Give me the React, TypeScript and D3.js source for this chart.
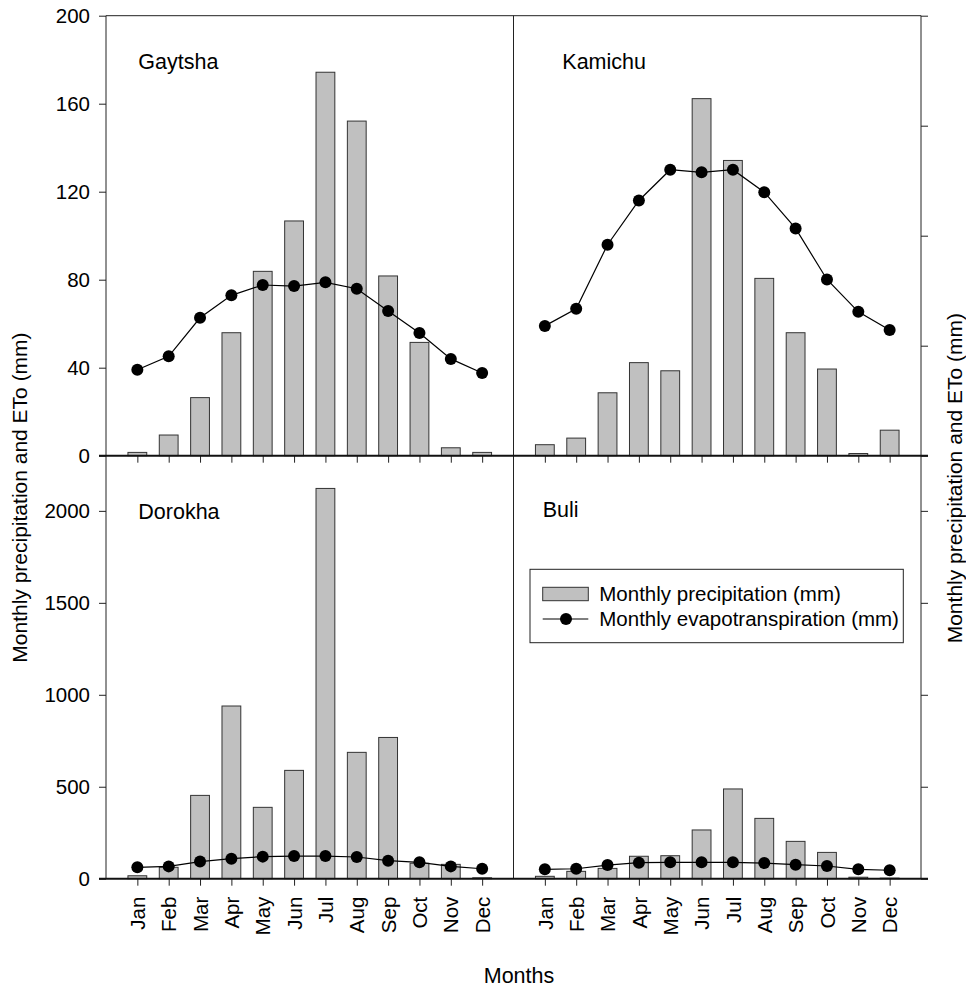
import { axisBottom, axisLeft, axisRight, line, scaleLinear, scalePoint, select } from "d3";
import { useEffect, useRef } from "react";

const months = ["Jan", "Feb", "Mar", "Apr", "May", "Jun", "Jul", "Aug", "Sep", "Oct", "Nov", "Dec"];

const gaytshaPrecip = [1.5, 9.4, 26.4, 55.9, 83.8, 106.7, 174.3, 152.1, 81.7, 51.5, 3.6, 1.5];
const gaytshaEto = [39.1, 45.2, 62.7, 72.9, 77.6, 77.1, 78.8, 75.9, 65.8, 55.8, 44.0, 37.6];
const kamichuPrecip = [5, 8, 28.6, 42.3, 38.6, 162.3, 134.2, 80.6, 55.9, 39.4, 1, 11.6];
const kamichuEto = [59, 66.8, 95.9, 116, 130, 128.8, 130, 119.8, 103.3, 80.1, 65.4, 57.1];
const dorokhaPrecip = [16, 62, 453, 939, 388, 589, 2122, 687, 768, 84, 78, 5];
const dorokhaEto = [62, 67, 93, 109, 120, 123, 123, 118, 98, 89, 67, 54];
const buliPrecip = [13, 40, 56, 122, 125, 265, 488, 328, 203, 143, 8, 3];
const buliEto = [51, 54, 74, 87, 89, 89, 89, 85, 76, 69, 51, 46];

const topDomain = [0, 200];
const bottomDomain = [0, 2300];
const topLeftTicks = [0, 40, 80, 120, 160, 200];
const topRightTicks = [0, 50, 100, 150, 200];
const bottomTicks = [0, 500, 1000, 1500, 2000];

const yTitle = "Monthly precipitation and ETo (mm)";
const xTitle = "Months";
const legendLabels = ["Monthly precipitation (mm)", "Monthly evapotranspiration (mm)"];

const FONT = "Arial, 'Liberation Sans', Helvetica, sans-serif";
const BAR_FILL = "#c0c0c0";
const BAR_STROKE = "#333";

const left = 106;
const mid = 513.5;
const right = 921;
const top = 15.7;
const midY = 455.7;
const bottom = 878.7;

export default function App() {
  const svgRef = useRef<SVGSVGElement | null>(null);

  useEffect(() => {
    if (!svgRef.current) return;
    const svg = select(svgRef.current);
    svg.selectAll("*").remove();

    const yTop = scaleLinear().domain(topDomain).range([midY, top]);
    const yBottom = scaleLinear().domain(bottomDomain).range([bottom, midY]);
    const xLeft = scalePoint<string>().domain(months).range([left, mid]).padding(1);
    const xRight = scalePoint<string>().domain(months).range([mid, right]).padding(1);
    const barWidth = xLeft.step() * 0.6;

    const panels = [
      { name: "Gaytsha", precip: gaytshaPrecip, eto: gaytshaEto, x: xLeft, y: yTop, tx: 32.3, ty: 53.3 },
      { name: "Kamichu", precip: kamichuPrecip, eto: kamichuEto, x: xRight, y: yTop, tx: 48.8, ty: 53.3 },
      { name: "Dorokha", precip: dorokhaPrecip, eto: dorokhaEto, x: xLeft, y: yBottom, tx: 32.3, ty: 63.3 },
      { name: "Buli", precip: buliPrecip, eto: buliEto, x: xRight, y: yBottom, tx: 29.2, ty: 61 },
    ];

    panels.forEach((p) => {
      const g = svg.append("g");
      const x0 = p.x.range()[0];
      const y0 = p.y.range()[1];

      g.selectAll("rect")
        .data(p.precip)
        .join("rect")
        .attr("x", (_, i) => (p.x(months[i]) ?? 0) - barWidth / 2)
        .attr("y", (d) => p.y(d))
        .attr("width", barWidth)
        .attr("height", (d) => p.y(0) - p.y(d))
        .attr("fill", BAR_FILL)
        .attr("stroke", BAR_STROKE)
        .attr("stroke-width", 1);

      const path = line<number>()
        .x((_, i) => p.x(months[i]) ?? 0)
        .y((d) => p.y(d));
      g.append("path")
        .attr("d", path(p.eto))
        .attr("fill", "none")
        .attr("stroke", "#000")
        .attr("stroke-width", 1.2);

      g.selectAll("circle")
        .data(p.eto)
        .join("circle")
        .attr("cx", (_, i) => p.x(months[i]) ?? 0)
        .attr("cy", (d) => p.y(d))
        .attr("r", 6)
        .attr("fill", "#000");

      g.append("text")
        .attr("x", x0 + p.tx)
        .attr("y", y0 + p.ty)
        .attr("font-family", FONT)
        .attr("font-size", 21.5)
        .attr("fill", "#000")
        .text(p.name);

      // month ticks under each panel
      const xa = svg
        .append("g")
        .attr("transform", `translate(0,${p.y(0)})`)
        .call(axisBottom(p.x).tickSize(7).tickFormat(() => ""));
      xa.select(".domain").remove();
      xa.selectAll("line").attr("stroke", "#222");
      if (p.y === yBottom) {
        xa.selectAll("text")
          .text((d) => d as string)
          .attr("transform", "rotate(-90)")
          .attr("text-anchor", "end")
          .attr("x", -18)
          .attr("y", 0)
          .attr("dy", "0.35em")
          .attr("font-family", FONT)
          .attr("font-size", 20.5)
          .attr("fill", "#000");
      } else {
        xa.selectAll("text").remove();
      }
    });

    // left axes
    const leftAxes = [
      { scale: yTop, ticks: topLeftTicks },
      { scale: yBottom, ticks: bottomTicks },
    ];
    leftAxes.forEach((a) => {
      const ax = svg
        .append("g")
        .attr("transform", `translate(${left},0)`)
        .call(
          axisLeft(a.scale)
            .tickValues(a.ticks)
            .tickSize(7)
            .tickPadding(9)
            .tickFormat((d) => String(d))
        );
      ax.select(".domain").remove();
      ax.selectAll("line").attr("stroke", "#222");
      ax.selectAll("text").attr("font-family", FONT).attr("font-size", 20.5).attr("fill", "#000");
    });

    // right axes (no labels)
    const rightAxes = [
      { scale: yTop, ticks: topRightTicks },
      { scale: yBottom, ticks: bottomTicks },
    ];
    rightAxes.forEach((a) => {
      const ax = svg
        .append("g")
        .attr("transform", `translate(${right},0)`)
        .call(axisRight(a.scale).tickValues(a.ticks).tickSize(7).tickFormat(() => ""));
      ax.select(".domain").remove();
      ax.selectAll("line").attr("stroke", "#222");
    });

    // frame
    const frame = svg.append("g").attr("stroke", "#222").attr("fill", "none");
    frame.append("line").attr("x1", left).attr("x2", right).attr("y1", top).attr("y2", top);
    frame.append("line").attr("x1", left).attr("x2", left).attr("y1", top).attr("y2", bottom);
    frame.append("line").attr("x1", right).attr("x2", right).attr("y1", top).attr("y2", bottom);
    frame.append("line").attr("x1", mid).attr("x2", mid).attr("y1", top).attr("y2", bottom);
    [yTop(0), yBottom(0)].forEach((yy) => {
      frame
        .append("line")
        .attr("x1", left - 7)
        .attr("x2", right + 7)
        .attr("y1", yy)
        .attr("y2", yy)
        .attr("stroke", "#111")
        .attr("stroke-width", 2);
    });

    // legend
    const lg = svg.append("g").attr("font-family", FONT).attr("font-size", 20.5);
    lg.append("rect")
      .attr("x", 530)
      .attr("y", 569.3)
      .attr("width", 373.3)
      .attr("height", 73.4)
      .attr("fill", "#fff")
      .attr("stroke", "#222");
    lg.append("rect")
      .attr("x", 542.7)
      .attr("y", 587.3)
      .attr("width", 45.6)
      .attr("height", 13.4)
      .attr("fill", BAR_FILL)
      .attr("stroke", BAR_STROKE);
    lg.append("line")
      .attr("x1", 542.7)
      .attr("x2", 588.3)
      .attr("y1", 619)
      .attr("y2", 619)
      .attr("stroke", "#000")
      .attr("stroke-width", 1.2);
    lg.append("circle").attr("cx", 566).attr("cy", 619).attr("r", 6).attr("fill", "#000");
    legendLabels.forEach((t, i) => {
      lg.append("text")
        .attr("x", 599.3)
        .attr("y", 594 + i * 25)
        .attr("dy", "0.35em")
        .attr("fill", "#000")
        .text(t);
    });

    // axis titles
    svg
      .append("text")
      .attr("transform", "translate(27.3,662.7) rotate(-90)")
      .attr("font-family", FONT)
      .attr("font-size", 21)
      .attr("fill", "#000")
      .text(yTitle);
    svg
      .append("text")
      .attr("transform", "translate(961.5,643.3) rotate(-90)")
      .attr("font-family", FONT)
      .attr("font-size", 21)
      .attr("fill", "#000")
      .text(yTitle);
    svg
      .append("text")
      .attr("x", 519)
      .attr("y", 982.7)
      .attr("text-anchor", "middle")
      .attr("font-family", FONT)
      .attr("font-size", 21.5)
      .attr("fill", "#000")
      .text(xTitle);
  }, []);

  return (
    <svg
      ref={svgRef}
      width={966}
      height={988}
      style={{ position: "absolute", left: 0, top: 0, background: "#fff" }}
      role="img"
      aria-label="Monthly precipitation and ETo by station"
    />
  );
}
